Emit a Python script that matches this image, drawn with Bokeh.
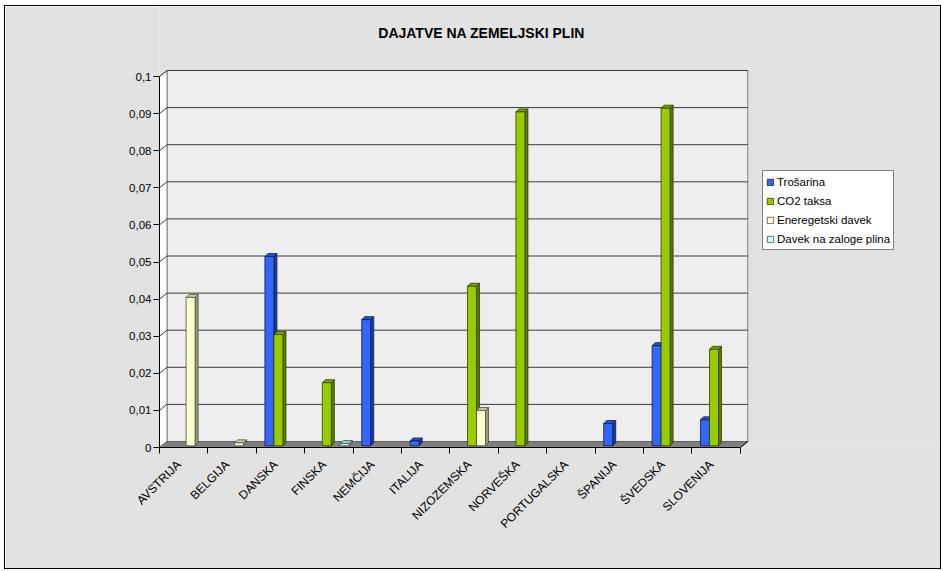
import numpy as np
from bokeh.plotting import figure
from bokeh.models import (Range1d, FixedTicker, CustomJSTickFormatter, Legend,
                          LegendItem, Label)
from bokeh.embed import file_html
from bokeh.resources import INLINE

# ---------------- data ----------------
countries = ["AVSTRIJA", "BELGIJA", "DANSKA", "FINSKA", "NEMČIJA", "ITALIJA",
             "NIZOZEMSKA", "NORVEŠKA", "PORTUGALSKA", "ŠPANIJA", "ŠVEDSKA", "SLOVENIJA"]
series_names = ["Trošarina", "CO2 taksa", "Eneregetski davek", "Davek na zaloge plina"]
trosarina = [0, 0, 0.051, 0, 0.034, 0.0013, 0, 0, 0, 0.006, 0.027, 0.007]
co2_taksa = [0, 0, 0.030, 0.017, 0, 0, 0.043, 0.090, 0, 0, 0.091, 0.026]
energetski_davek = [0.040, 0.0008, 0, 0, 0, 0, 0.0095, 0, 0, 0, 0, 0]
davek_zaloge = [0, 0, 0, 0.0006, 0, 0, 0, 0, 0, 0, 0, 0]
y_ticks = [0, 0.01, 0.02, 0.03, 0.04, 0.05, 0.06, 0.07, 0.08, 0.09, 0.1]
title_text = "DAJATVE NA ZEMELJSKI PLIN"
x_title = "DRŽAVE"
y_title = "EUR/Sm3"

series_values = [trosarina, co2_taksa, energetski_davek, davek_zaloge]

# ---------------- styling / geometry ----------------
front_cols = ["#3366FF", "#99CC00", "#FFFFCC", "#CCFFFF"]
side_cols = ["#1F3D99", "#5C7A00", "#99997A", "#7A9999"]
top_cols = ["#2952CC", "#7AA300", "#CCCCA3", "#A3CCCC"]
edge_cols = ["#0A1A4D", "#2E3D00", "#4D4D3D", "#3D4D4D"]

OFF_X, OFF_Y = 5, 6                 # figure position on the page (css margin)
W, H = 935, 562
LEFT = 159 - OFF_X
BOTTOM = H - (447 - OFF_Y)
PX_X = 48.4          # px per category
PX_Y = 3710.0        # px per value unit
n = len(countries)
x_end = (W - LEFT) / PX_X
y_end = (H - BOTTOM) / PX_Y
dxw, dyw = 7.5 / PX_X, 6.0 / PX_Y      # wall depth
dxb, dyb = 3.0 / PX_X, 3.0 / PX_Y      # bar depth
b0 = 1.7 / PX_Y
offsets = [0.178, 0.364, 0.55, 0.736]
bw = 0.186
ymax = y_ticks[-1]

p = figure(width=W, height=H, x_range=Range1d(0, x_end), y_range=Range1d(0, y_end),
           output_backend="svg", toolbar_location=None,
           min_border_left=LEFT, min_border_right=0, min_border_top=0,
           min_border_bottom=BOTTOM)
p.xgrid.visible = False
p.ygrid.visible = False
p.background_fill_color = "#e2e2e2"
p.border_fill_color = "#e2e2e2"
p.outline_line_color = None
p.styles = {"margin-left": f"{OFF_X}px", "margin-top": f"{OFF_Y}px",
            "outline": "1px solid #000000", "outline-offset": "0px"}

# back wall
p.quad(left=[dxw], right=[n + dxw], bottom=[dyw], top=[ymax + dyw],
       fill_color="#eeeeee", line_color="#808080", line_width=1)
# left side wall
p.patch(x=[0, dxw, dxw, 0], y=[0, dyw, ymax + dyw, ymax],
        fill_color="#ffffff", line_color="#808080", line_width=1)
# gridlines
gx = [[0, dxw, n + dxw] for t in y_ticks[1:]]
gy = [[t, t + dyw, t + dyw] for t in y_ticks[1:]]
p.multi_line(xs=gx, ys=gy, line_color="#3a3a3a", line_width=1)
# floor
p.patch(x=[0, n, n + dxw, dxw], y=[0, 0, dyw, dyw],
        fill_color="#808080", line_color="#606060", line_width=1)
p.segment(x0=[n], y0=[0], x1=[n + dxw], y1=[dyw], line_color="#000000", line_width=1)

# bars
legend_items = []
for s, vals in enumerate(series_values):
    idx = [i for i, v in enumerate(vals) if v > 0]
    lefts = [i + offsets[s] for i in idx]
    rights = [l + bw for l in lefts]
    tops = [vals[i] + b0 for i in idx]
    side_xs = [[r, r + dxb, r + dxb, r] for r in rights]
    side_ys = [[b0, b0 + dyb, t + dyb, t] for t in tops]
    p.patches(xs=side_xs, ys=side_ys, fill_color=side_cols[s],
              line_color=edge_cols[s], line_width=0.8)
    top_xs = [[l, l + dxb, r + dxb, r] for l, r in zip(lefts, rights)]
    top_ys = [[t, t + dyb, t + dyb, t] for t in tops]
    p.patches(xs=top_xs, ys=top_ys, fill_color=top_cols[s],
              line_color=edge_cols[s], line_width=0.8)
    r = p.quad(left=lefts, right=rights, bottom=[b0] * len(idx), top=tops,
               fill_color=front_cols[s], line_color=edge_cols[s], line_width=0.8)
    legend_items.append(LegendItem(label=series_names[s], renderers=[r]))

# y axis
ya = p.yaxis[0]
ya.ticker = FixedTicker(ticks=y_ticks, minor_ticks=[])
ya.formatter = CustomJSTickFormatter(
    code="return (Math.round(tick*100)/100).toString().replace('.', ',');")
ya.bounds = (0, ymax)
ya.axis_line_color = "#000000"
ya.major_tick_out = 6
ya.major_tick_in = 0
ya.major_tick_line_color = "#000000"
ya.major_label_standoff = 2
ya.major_label_text_font = "Liberation Sans"
ya.major_label_text_font_size = "11.5px"
ya.major_label_text_color = "#000000"

# x axis
xa = p.xaxis[0]
xa.ticker = FixedTicker(ticks=[i + 0.4 for i in range(n)],
                        minor_ticks=[float(i) for i in range(n + 1)])
xa.formatter = CustomJSTickFormatter(args=dict(names=countries),
                                     code="return names[Math.floor(tick)];")
xa.bounds = (0, n)
xa.axis_line_color = "#000000"
xa.major_tick_line_color = None
xa.minor_tick_line_color = "#000000"
xa.minor_tick_out = 6
xa.minor_tick_in = 0
xa.major_label_orientation = np.pi / 4
xa.major_label_standoff = 9
xa.major_label_text_font = "Liberation Sans"
xa.major_label_text_font_size = "12px"
xa.major_label_text_color = "#000000"

# title & axis titles
p.add_layout(Label(x=(481 - 158.9) / PX_X, y=(447 - 32) / PX_Y, text=title_text,
                   text_align="center", text_baseline="middle",
                   text_font="Liberation Sans", text_font_style="bold",
                   text_font_size="14px", text_color="#000000"))
p.add_layout(Label(x=(122 - 158.9) / PX_X, y=(447 - 262) / PX_Y, text=y_title,
                   text_align="right", text_baseline="middle",
                   text_font="Liberation Sans", text_font_style="bold",
                   text_font_size="12px", text_color="#000000"))
p.add_layout(Label(x=n / 2, y=-(547 - 447) / PX_Y, text=x_title,
                   text_align="center", text_baseline="middle",
                   text_font="Liberation Sans", text_font_style="bold",
                   text_font_size="12px", text_color="#000000"))

legend = Legend(items=legend_items, location=(603, 197), orientation="vertical",
                padding=3, spacing=4, margin=0, label_height=15,
                glyph_width=8, glyph_height=8, label_standoff=3,
                border_line_color="#000000", border_line_width=1,
                background_fill_color="#ffffff", background_fill_alpha=1.0,
                label_text_font="Liberation Sans", label_text_font_size="11.5px",
                label_text_color="#000000")
p.add_layout(legend)

open("out.html", "w").write(file_html(p, INLINE))
